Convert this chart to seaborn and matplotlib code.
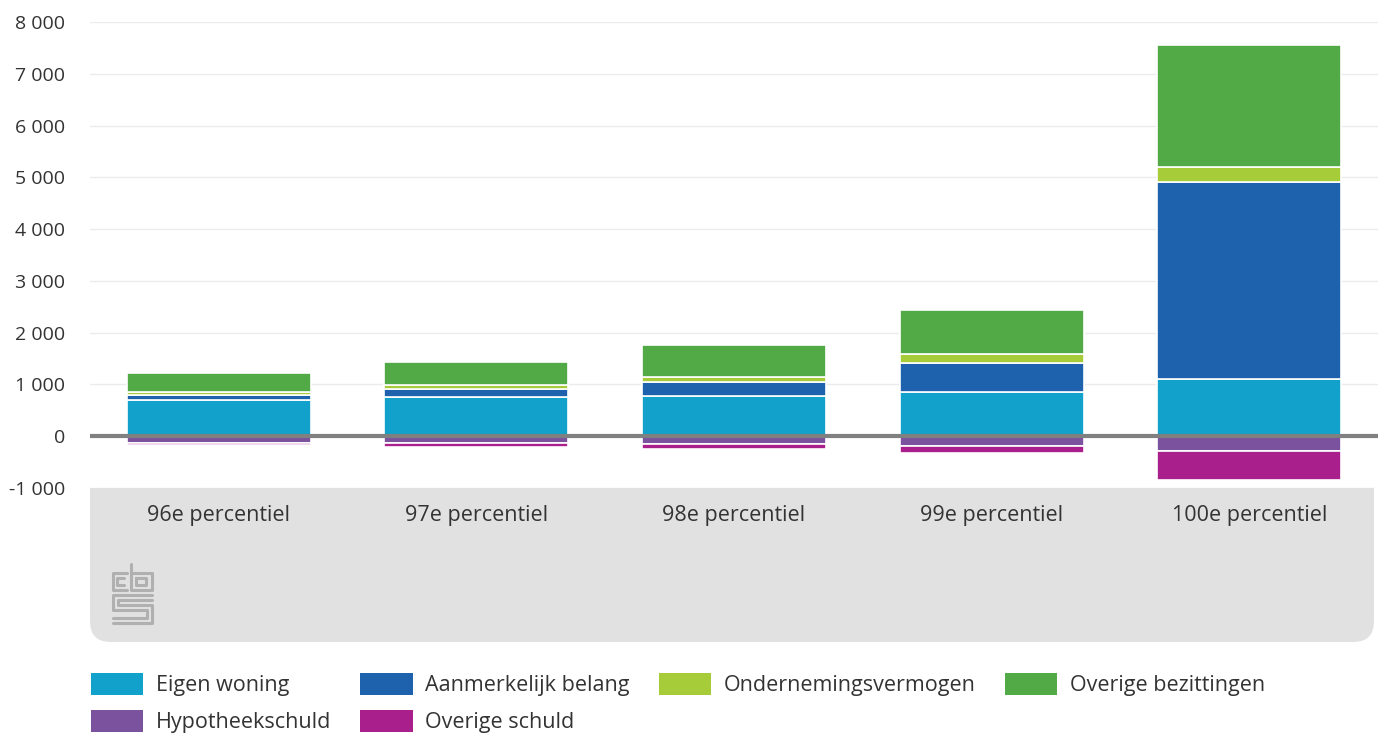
import numpy as np
import pandas as pd
import matplotlib
matplotlib.use("Agg")
import matplotlib.pyplot as plt
from matplotlib.patches import FancyBboxPatch, Patch
from matplotlib.lines import Line2D
from matplotlib.ticker import FuncFormatter, MultipleLocator
import seaborn as sns

# Data
categories = ["96e percentiel", "97e percentiel", "98e percentiel", "99e percentiel", "100e percentiel"]
eigen_woning = [700, 750, 780, 845, 1100]
aanmerkelijk_belang = [100, 160, 270, 565, 3810]
ondernemingsvermogen = [50, 70, 100, 180, 280]
overige_bezittingen = [370, 445, 605, 855, 2365]
hypotheekschuld = [-125, -135, -155, -180, -285]
overige_schuld = [-40, -65, -95, -145, -565]

pos_series = [
    ("Eigen woning", eigen_woning, "#12a1cb"),
    ("Aanmerkelijk belang", aanmerkelijk_belang, "#1e62ae"),
    ("Ondernemingsvermogen", ondernemingsvermogen, "#a6cc39"),
    ("Overige bezittingen", overige_bezittingen, "#52aa46"),
]
neg_series = [
    ("Hypotheekschuld", hypotheekschuld, "#7b529d"),
    ("Overige schuld", overige_schuld, "#a91f8b"),
]

sns.set_style("white")
plt.rcParams["font.family"] = ["Open Sans", "DejaVu Sans"]
text_color = "#333333"

fig = plt.figure(figsize=(13.84, 7.4), dpi=100)
ax = fig.add_axes([90 / 1384, 1 - 488 / 740, 1288 / 1384, 466 / 740])

# Stacked bars, positives upward and debts downward
bottom = np.zeros(len(categories))
for name, vals, col in pos_series:
    sns.barplot(x=categories, y=vals, bottom=bottom, color=col, width=0.714, saturation=1,
                edgecolor="white", linewidth=1.2, errorbar=None, ax=ax, zorder=3)
    bottom = bottom + np.array(vals)

bottom = np.zeros(len(categories))
for name, vals, col in neg_series:
    sns.barplot(x=categories, y=vals, bottom=bottom, color=col, width=0.714, saturation=1,
                edgecolor="white", linewidth=1.2, errorbar=None, ax=ax, zorder=3)
    bottom = bottom + np.array(vals)

ax.set_xlim(-0.5, len(categories) - 0.5)
ax.set_ylim(-1000, 8000)
ax.yaxis.set_major_locator(MultipleLocator(1000))
ax.yaxis.set_major_formatter(FuncFormatter(lambda v, p: f"{int(v):,}".replace(",", " ")))
ax.grid(axis="y", color="#ebebeb", linewidth=1, zorder=0)
ax.set_axisbelow(True)
ax.axhline(0, color="#808080", linewidth=3, zorder=4)
for s in ax.spines.values():
    s.set_visible(False)
ax.tick_params(axis="y", length=0, pad=18, labelsize=14, labelcolor=text_color)
ax.tick_params(axis="x", length=0, pad=12, labelsize=15.5, labelcolor=text_color)
ax.set_xlabel("")
ax.set_ylabel("")

# Grey panel below the plot with rounded bottom corners
W, H = 1384, 740
panel = FancyBboxPatch((90 / W, 1 - 642 / H), 1284 / W, 180 / H,
                       boxstyle="round,pad=0,rounding_size=0.015",
                       transform=fig.transFigure, facecolor="#e1e1e1",
                       edgecolor="none", zorder=-1, mutation_aspect=W / H)
fig.patches.append(panel)

# Simplified cbs logo
def fig_line(xs, ys):
    fig.add_artist(Line2D([x / W for x in xs], [1 - y / H for y in ys],
                          color="#b0b0b0", linewidth=2.2, transform=fig.transFigure))

fig_line([127, 113, 113, 127], [573, 573, 590, 590])
fig_line([124, 117, 117, 124], [578, 578, 585, 585])
fig_line([131, 131, 152, 152, 131], [564, 590, 590, 573, 573])
fig_line([136, 136, 146, 146, 136], [578, 585, 585, 578, 578])
fig_line([152, 113, 113, 147, 147, 113], [595, 595, 610, 610, 618, 618])
fig_line([152, 118, 118, 152, 152, 113], [600, 600, 605, 605, 623, 623])

# Legend
handles = []
order = [pos_series[0], pos_series[1], pos_series[2], pos_series[3], neg_series[0], neg_series[1]]
for name, vals, col in order:
    handles.append(Patch(facecolor=col, edgecolor="none", label=name))
# column-major layout: reorder so rows read across
labels_rows = [handles[0], handles[4], handles[1], handles[5], handles[2], handles[3]]
fig.legend(handles=labels_rows, loc="upper left", bbox_to_anchor=(91 / W, 1 - 673 / H),
           ncol=4, frameon=False, fontsize=15.5, labelcolor=text_color,
           handlelength=2.42, handleheight=1.2, handletextpad=0.6,
           columnspacing=1.35, labelspacing=0.62, borderpad=0, borderaxespad=0)

fig.savefig("out.png", dpi=100)
